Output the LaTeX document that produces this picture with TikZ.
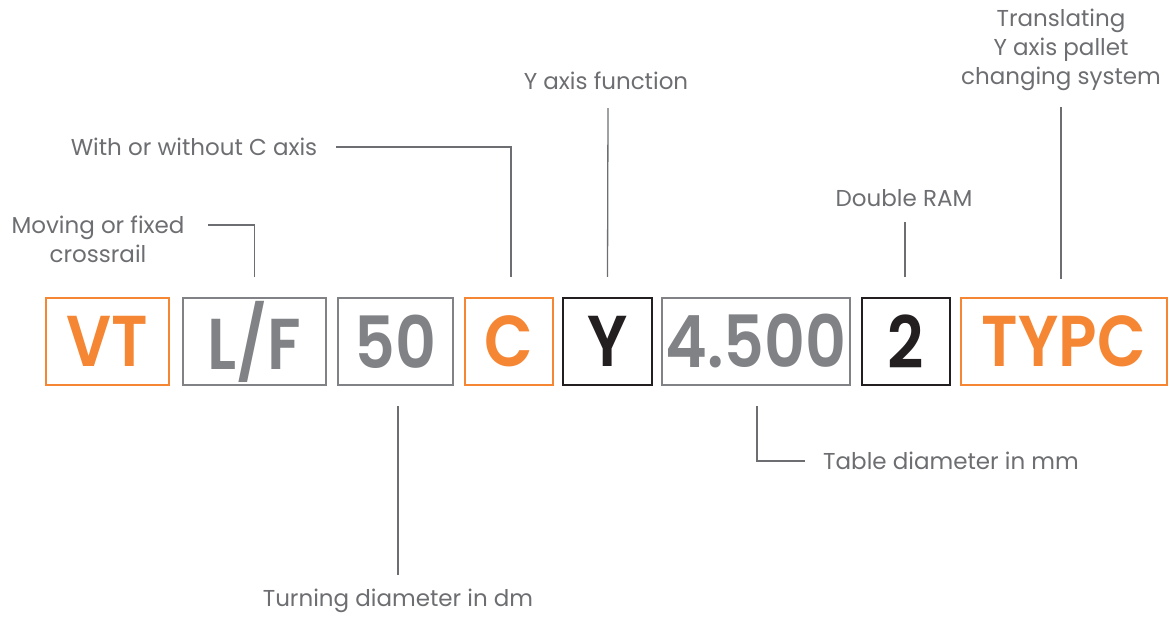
\documentclass[tikz,border=0pt]{standalone}
\usepackage{fontspec}
\setmainfont{Poppins}
\newfontfamily\codefont{Poppins}[UprightFont=* SemiBold]
\usetikzlibrary{calc}
\definecolor{orng}{HTML}{F58634}
\definecolor{boxgray}{HTML}{808285}
\definecolor{txtgray}{HTML}{6D6E71}
\definecolor{ink}{HTML}{231F20}
\newcommand{\cw}[1]{\scalebox{0.88}[1]{#1}}
\begin{document}
\begin{tikzpicture}[x=1pt,y=-1pt,
  codebox/.style={draw, line width=2.4pt, inner sep=0pt, minimum height=87pt,
    font=\fontsize{72}{72}\selectfont\codefont, anchor=center},
  orangebox/.style={codebox, draw=orng, text=orng},
  graybox/.style={codebox, draw=boxgray, text=boxgray},
  blackbox/.style={codebox, draw=ink, text=ink},
  lbl/.style={text=txtgray, font=\fontsize{23}{29}\selectfont, align=center, inner sep=0pt},
  lead/.style={draw=txtgray, line width=1.3pt}
]
\useasboundingbox (0,0) rectangle (1169,617);

% code boxes
\node[orangebox, minimum width=123pt] (vt)   at (107.5,341.5) {\cw{VT}};
\node[graybox,   minimum width=143pt] (lf)   at (254.5,341.5) {\cw{L/F}};
\node[graybox,   minimum width=115pt] (d50)  at (395.5,341.5) {\cw{50}};
\node[orangebox, minimum width=88pt]  (c)    at (509,341.5)   {\cw{C}};
\node[blackbox,  minimum width=89pt]  (y)    at (607.5,341.5) {\cw{Y}};
\node[graybox,   minimum width=188pt] (tab)  at (756,341.5)   {\cw{4.500}};
\node[blackbox,  minimum width=88pt]  (two)  at (906,341.5)   {\cw{2}};
\node[orangebox, minimum width=206pt] (typc) at (1064,341.5)  {\cw{TYPC}};

% labels
\node[lbl] (mov)   at (98,239)   {Moving or fixed\\crossrail};
\node[lbl] (withc) at (194,147)  {With or without C axis};
\node[lbl] (yfun)  at (606,81)   {Y axis function};
\node[lbl] (dram)  at (904,198)  {Double RAM};
\node[lbl] (trans) at (1061,50)  {Translating\\Y axis pallet\\changing system};
\node[lbl] (turn)  at (398,601)  {Turning diameter in dm};
\node[lbl] (tabl)  at (951,461)  {Table diameter in mm};

% leader lines
\coordinate (movE) at (208,225);
\draw[lead] (movE) -| ($(lf.north)+(0,-20)$);
\draw[lead] ([xshift=19pt]withc.east) -| ($(c.north)+(2,-20)$);
\draw[lead] ($(yfun.south)+(2,18)$) -- ($(y.north)+(0,-20)$);
\draw[lead] ($(dram.south)+(1,15)$) -- ($(two.north)+(-1,-20)$);
\draw[lead] ($(trans.south)+(0,16)$) -- ($(typc.north)+(-3,-18)$);
\draw[lead] ($(d50.south)+(2.5,20)$) -- ($(turn.north)+(0,-14)$);
\draw[lead] ($(tab.south)+(1,20)$) |- ([xshift=-18pt]tabl.west);
\end{tikzpicture}
\end{document}
